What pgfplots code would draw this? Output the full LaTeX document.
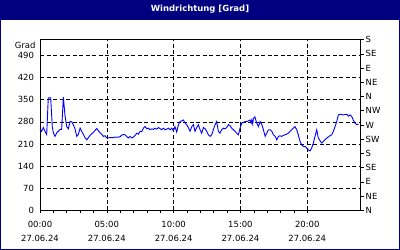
\documentclass[border=0pt]{standalone}
\usepackage{pgfplots}
\pgfplotsset{compat=1.18}
\usepackage{fontspec}
\setmainfont{DejaVu Sans}
\definecolor{navy}{RGB}{0,0,128}
\pgfplotstableread{
h v
0.00 258
0.12 250
0.25 262
0.37 250
0.50 240
0.62 356
0.80 356
0.92 265
1.00 245
1.12 234
1.25 245
1.37 250
1.50 256
1.62 256
1.75 358
1.87 300
2.00 265
2.12 258
2.25 281
2.37 280
2.50 270
2.62 258
2.75 234
2.87 240
3.00 260
3.12 250
3.25 240
3.37 230
3.50 223
3.62 230
3.75 237
3.87 242
4.00 247
4.12 253
4.25 259
4.37 252
4.50 245
4.62 240
4.75 234
4.87 236
5.00 229
5.25 230
5.50 230
5.62 232
5.75 231
5.87 232
6.00 233
6.12 238
6.25 240
6.36 239
6.49 234
6.61 229
6.74 234
6.86 229
6.98 231
7.11 237
7.24 244
7.36 241
7.49 250
7.61 249
7.74 260
7.86 265
8.00 258
8.11 260
8.24 255
8.36 258
8.49 256
8.61 260
8.74 257
8.86 262
9.00 258
9.11 255
9.24 260
9.36 255
9.49 257
9.61 260
9.74 255
9.86 260
9.99 252
10.10 265
10.23 248
10.36 271
10.48 281
10.60 283
10.73 286
10.86 276
10.98 271
11.10 262
11.23 250
11.36 265
11.48 271
11.60 250
11.73 262
11.85 271
11.98 255
12.10 244
12.23 262
12.36 258
12.48 250
12.60 239
12.73 234
12.85 239
12.97 255
13.10 271
13.22 281
13.35 250
13.47 244
13.60 255
13.72 260
13.85 258
13.97 262
14.10 271
14.22 268
14.35 260
14.47 255
14.60 250
14.72 244
14.85 239
14.97 260
15.10 276
15.22 278
15.35 281
15.47 281
15.60 283
15.72 286
15.80 276
15.85 286
15.92 273
15.97 291
16.08 296
16.22 276
16.35 265
16.47 281
16.60 271
16.72 255
16.85 234
16.97 244
17.10 255
17.22 255
17.35 250
17.47 239
17.60 234
17.72 223
17.85 234
17.97 236
18.09 234
18.21 237
18.33 239
18.46 241
18.58 244
18.71 250
18.84 255
18.96 260
19.08 265
19.21 255
19.33 239
19.46 218
19.59 207
19.71 202
19.84 202
19.96 197
20.08 191
20.21 188
20.33 197
20.46 213
20.58 234
20.71 255
20.78 239
20.83 229
20.96 220
21.08 213
21.20 218
21.33 223
21.46 229
21.58 232
21.70 236
21.83 239
21.96 250
22.08 265
22.21 281
22.33 302
22.46 304
22.58 303
22.70 302
22.83 303
22.96 304
23.08 298
23.20 302
23.33 297
23.45 285
23.58 276
23.70 271
23.83 273
}\winddata
\begin{document}
\begin{tikzpicture}[x=1bp,y=1bp]
\fill[white] (0,0) rectangle (400,250);
\fill[navy] (0,229.5) rectangle (400,250);
\draw[navy,line width=1.5bp] (0.75,0.75) rectangle (399.25,249.25);
\node[white,font=\fontsize{8.5}{10}\selectfont\bfseries] at (200,240.5) {Windrichtung [Grad]};
\node[anchor=base east,font=\fontsize{8.5}{10}\selectfont,inner sep=0pt] at (35.7,202) {Grad};
\begin{axis}[
  at={(40bp,39.7bp)}, anchor=south west,
  scale only axis, width=320.7bp, height=170.6bp,
  xmin=0, xmax=24, ymin=0, ymax=540,
  axis line style={black, line width=0.8bp},
  xtick={0,5,10,15,20},
  xticklabels={00:00\\27.06.24,05:00\\27.06.24,10:00\\27.06.24,15:00\\27.06.24,20:00\\27.06.24},
  minor x tick num=4,
  xtick pos=bottom,
  ytick={0,70,140,210,280,350,420,490},
  ytick pos=left,
  y tick style={draw=none},
  x tick style={black, line width=0.6bp},
  tick align=outside,
  major tick length=3bp, minor tick length=3bp,
  grid=major,
  major grid style={black, line width=0.6bp, dash pattern=on 4bp off 2.5bp},
  ticklabel style={font=\fontsize{8.5}{14}\selectfont},
  xticklabel style={align=center, yshift=-4.5bp},
  yticklabel style={xshift=0.5bp},
  /pgf/number format/assume math mode=true,
]
\addplot[blue, line width=0.9bp, no marks] table[x=h,y=v] {\winddata};
\end{axis}
\begin{axis}[
  at={(40bp,39.7bp)}, anchor=south west,
  scale only axis, width=320.7bp, height=170.6bp,
  xmin=0, xmax=24, ymin=0, ymax=540,
  axis x line=none,
  axis y line*=right,
  axis line style={black, line width=0.8bp},
  ytick={0,45,90,135,180,225,270,315,360,405,450,495,540},
  yticklabels={N,NE,E,SE,S,SW,W,NW,N,NE,E,SE,S},
  tick align=outside,
  major tick length=3bp,
  y tick style={black, line width=0.6bp},
  ticklabel style={font=\fontsize{8.5}{14}\selectfont},
  yticklabel style={xshift=-1.5bp},
]
\end{axis}
\end{tikzpicture}
\end{document}
